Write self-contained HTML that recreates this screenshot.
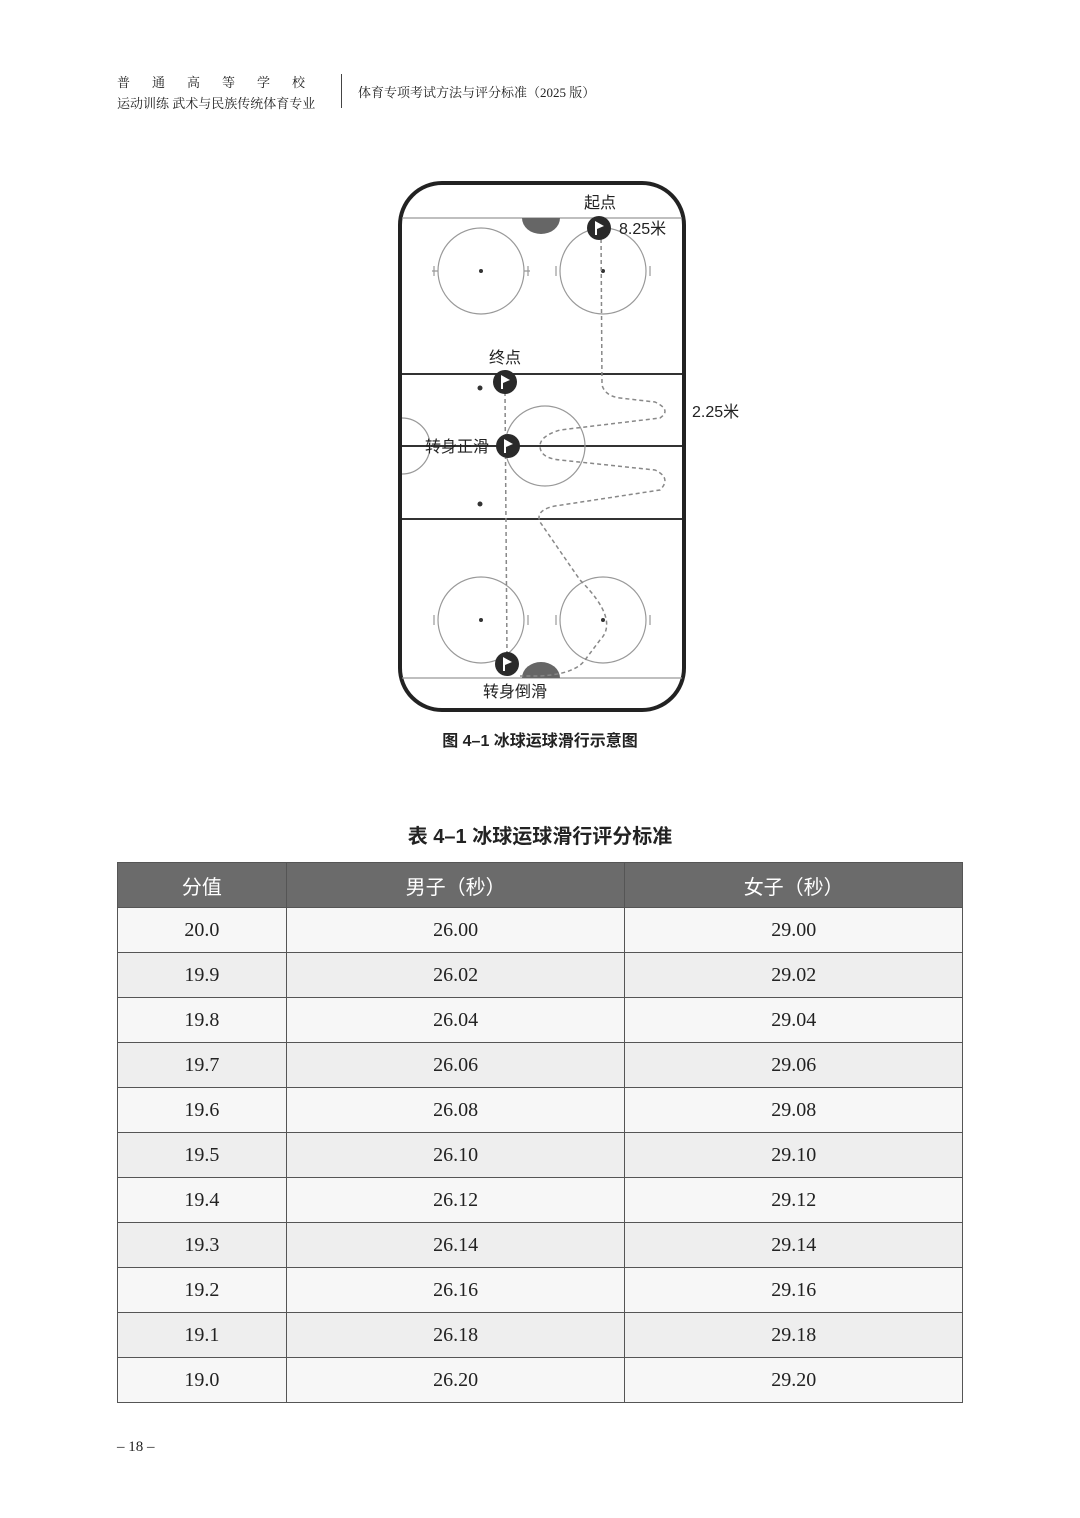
<!DOCTYPE html>
<html><head><meta charset="utf-8"><style>
body{margin:0;background:#fff;width:1080px;height:1518px;position:relative;overflow:hidden;font-family:"Liberation Serif","Noto Serif CJK SC",serif;color:#222}
.a{position:absolute;white-space:nowrap}
table{position:absolute;left:117px;top:862px;width:846px;border-collapse:collapse;font-size:20px}
td,th{border:1px solid #555;height:44px;text-align:center;padding:0}
th{background:#6b6b6b;color:#fff;font-weight:normal;font-family:"Liberation Serif","Noto Sans CJK SC",sans-serif}
tr:nth-child(odd) td{background:#eeeeee}
tr:nth-child(even) td{background:#f7f7f7}
</style></head><body>
<div class="a" style="left:117px;top:72px;font-size:13px;letter-spacing:22px">普通高等学校</div>
<div class="a" style="left:117px;top:93px;font-size:13px">运动训练 武术与民族传统体育专业</div>
<div class="a" style="left:341px;top:74px;width:1px;height:34px;background:#444"></div>
<div class="a" style="left:358px;top:82px;font-size:13px">体育专项考试方法与评分标准（2025 版）</div>

<svg class="a" style="left:0;top:0" width="1080" height="760" font-family="Liberation Sans, Noto Sans CJK SC, sans-serif">
<rect x="400" y="183" width="284" height="527" rx="42" fill="#fff" stroke="#222" stroke-width="4"/>
<line x1="402" y1="218" x2="682" y2="218" stroke="#999" stroke-width="1.2"/>
<line x1="402" y1="678" x2="682" y2="678" stroke="#999" stroke-width="1.2"/>
<line x1="402" y1="374" x2="682" y2="374" stroke="#333" stroke-width="2"/>
<line x1="402" y1="446" x2="682" y2="446" stroke="#333" stroke-width="2"/>
<line x1="402" y1="519" x2="682" y2="519" stroke="#333" stroke-width="2"/>
<path d="M522 218 A19 16 0 0 0 560 218Z" fill="#666"/>
<path d="M522 678 A19 16 0 0 1 560 678Z" fill="#666"/>
<g fill="none" stroke="#999" stroke-width="1.2">
<circle cx="481" cy="271" r="43"/><circle cx="603" cy="271" r="43"/>
<circle cx="481" cy="620" r="43"/><circle cx="603" cy="620" r="43"/>
<circle cx="545" cy="446" r="40"/><path d="M402 418 A28 28 0 0 1 402 474"/>
<path d="M434 266v10M438 271h-6M528 266v10M524 271h6M556 266v10M650 266v10M434 615v10M528 615v10M556 615v10M650 615v10"/>
</g>
<g fill="#333"><circle cx="481" cy="271" r="2"/><circle cx="603" cy="271" r="2"/><circle cx="481" cy="620" r="2"/><circle cx="603" cy="620" r="2"/><circle cx="480" cy="388" r="2.5"/><circle cx="480" cy="504" r="2.5"/></g>
<g fill="none" stroke="#888" stroke-width="1.5" stroke-dasharray="4 3">
<path d="M601 232 L602 385 Q605 396 620 398 L655 402 Q672 410 660 418 L560 430 Q540 436 540 446 Q540 458 560 460 L655 470 Q672 478 660 490 L555 506 Q535 510 540 522 L580 580 Q620 620 600 640 L585 660 Q575 674 540 676 L520 676"/>
<path d="M507 655 L505 392"/>
</g>
<g fill="#2a2a2a"><circle cx="599" cy="228" r="12"/><circle cx="505" cy="382" r="12"/><circle cx="508" cy="446" r="12"/><circle cx="507" cy="664" r="12"/></g>
<g fill="#fff"><path d="M595 221v14h2v-6l7-3-9-5z"/><path d="M501 375v14h2v-6l7-3-9-5z"/><path d="M504 439v14h2v-6l7-3-9-5z"/><path d="M503 657v14h2v-6l7-3-9-5z"/></g>
<g font-size="16" fill="#222">
<text x="584" y="208">起点</text><text x="619" y="234">8.25米</text>
<text x="489" y="363">终点</text><text x="692" y="417">2.25米</text>
<text x="425" y="452">转身正滑</text><text x="483" y="697">转身倒滑</text>
</g>
<text x="540" y="746" text-anchor="middle" font-size="16" font-weight="bold" fill="#222">图 4–1  冰球运球滑行示意图</text>
</svg>
<div class="a" style="left:0;width:1080px;text-align:center;top:820px;font-size:20px;font-weight:bold;font-family:'Liberation Sans','Noto Sans CJK SC',sans-serif">表 4–1  冰球运球滑行评分标准</div>
<table>
<colgroup><col style="width:169px"><col style="width:339px"><col style="width:338px"></colgroup>
<tr><th>分值</th><th>男子（秒）</th><th>女子（秒）</th></tr>
<tr><td>20.0</td><td>26.00</td><td>29.00</td></tr>
<tr><td>19.9</td><td>26.02</td><td>29.02</td></tr>
<tr><td>19.8</td><td>26.04</td><td>29.04</td></tr>
<tr><td>19.7</td><td>26.06</td><td>29.06</td></tr>
<tr><td>19.6</td><td>26.08</td><td>29.08</td></tr>
<tr><td>19.5</td><td>26.10</td><td>29.10</td></tr>
<tr><td>19.4</td><td>26.12</td><td>29.12</td></tr>
<tr><td>19.3</td><td>26.14</td><td>29.14</td></tr>
<tr><td>19.2</td><td>26.16</td><td>29.16</td></tr>
<tr><td>19.1</td><td>26.18</td><td>29.18</td></tr>
<tr><td>19.0</td><td>26.20</td><td>29.20</td></tr>
</table>
<div class="a" style="left:117px;top:1439px;font-size:15px">– 18 –</div>
</body></html>
